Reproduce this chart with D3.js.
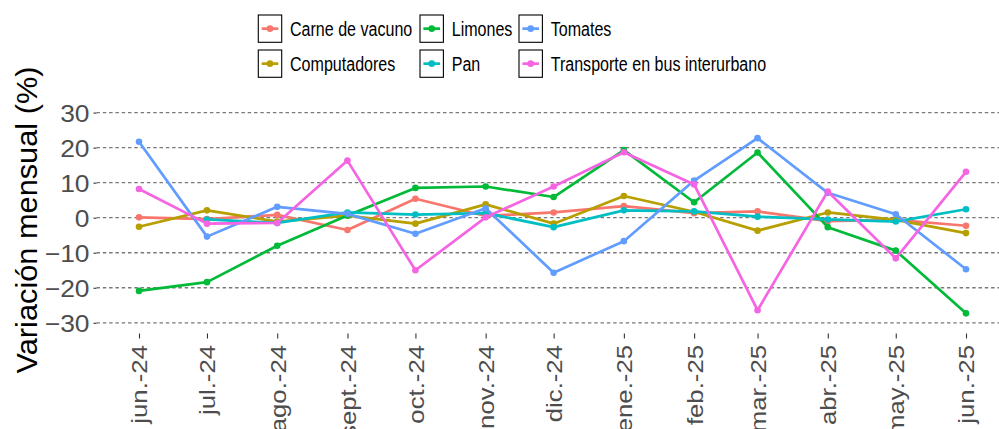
<!DOCTYPE html>
<html>
<head>
<meta charset="utf-8">
<script src="https://cdn.jsdelivr.net/npm/d3@7"></script>
<style>
  body { margin: 0; background: #fff; }
  svg { display: block; font-family: "Liberation Sans", Arial, sans-serif; }
</style>
</head>
<body>
<svg id="chart" width="999" height="429"></svg>
<script>
// months (first day) and their labels
const months = ["2024-06-01","2024-07-01","2024-08-01","2024-09-01","2024-10-01","2024-11-01",
  "2024-12-01","2025-01-01","2025-02-01","2025-03-01","2025-04-01","2025-05-01","2025-06-01"];
const monthLabels = ["jun.-24","jul.-24","ago.-24","sept.-24","oct.-24","nov.-24",
  "dic.-24","ene.-25","feb.-25","mar.-25","abr.-25","may.-25","jun.-25"];

// monthly change, %
const carne = [0.1, -0.4, 0.8, -3.5, 5.4, 0.5, 1.5, 3.3, 1.3, 1.8, -1.0, -0.6, -2.3];
const computadores = [-2.6, 2.1, -1.1, 0.6, -1.7, 3.8, -1.7, 6.2, 1.7, -3.7, 1.5, -0.6, -4.4];
const limones = [-20.9, -18.4, -8.0, 0.6, 8.5, 8.9, 5.9, 19.3, 4.4, 18.6, -2.7, -9.4, -27.3];
const pan = [null, -0.5, -1.5, 1.5, 0.9, 1.3, -2.7, 2.1, 1.8, 0.3, -0.5, -1.1, 2.4];
const tomates = [21.7, -5.4, 3.1, 1.1, -4.6, 2.7, -15.7, -6.7, 10.6, 22.7, 7.1, 1.0, -14.7];
const transporte = [8.2, -1.7, -1.5, 16.3, -15.0, 0.1, 8.9, 18.7, 9.5, -26.4, 7.5, -11.6, 13.1];

const seriesNames = ["Carne de vacuno","Computadores","Limones","Pan","Tomates","Transporte en bus interurbano"];
const seriesColors = ["#F8766D","#B79F00","#00BA38","#00BFC4","#619CFF","#F564E3"];
const seriesValues = [carne, computadores, limones, pan, tomates, transporte];
const yTicks = [-30, -20, -10, 0, 10, 20, 30];

const svg = d3.select("#chart");
const parse = d3.utcParse("%Y-%m-%d");
const dates = months.map(parse);

const x = d3.scaleUtc()
  .domain([dates[0], dates[dates.length - 1]])
  .range([139, 966]);
const y = d3.scaleLinear()
  .domain([-30, 30])
  .range([322.8, 112.6]);

const panelLeft = 96.5, panelRight = 999, panelBottom = 333.5;

// horizontal grid
svg.append("g")
  .selectAll("line")
  .data(yTicks)
  .join("line")
  .attr("x1", panelLeft).attr("x2", panelRight)
  .attr("y1", d => y(d)).attr("y2", d => y(d))
  .attr("stroke", "#7a7a7a")
  .attr("stroke-width", 1.3)
  .attr("stroke-dasharray", "3.5,2.8");

// y axis
const yAxis = svg.append("g")
  .attr("transform", `translate(${panelLeft},0)`)
  .call(d3.axisLeft(y).tickValues(yTicks).tickSize(3).tickPadding(4).tickFormat(d3.format("d")));
yAxis.select(".domain").remove();
yAxis.selectAll(".tick line").attr("stroke", "#333").attr("stroke-width", 1.1);
yAxis.selectAll(".tick text")
  .attr("fill", "#4D4D4D")
  .style("font-size", "24px")
  .attr("transform", "scale(1.1,1)")
  .attr("x", -7 / 1.1)
  .attr("dy", "0.36em");

// x axis
const xScaleText = 1.17;
const xAxis = svg.append("g")
  .attr("transform", `translate(0,${panelBottom})`)
  .call(d3.axisBottom(x).tickValues(dates).tickSize(5).tickFormat((d, i) => monthLabels[i]));
xAxis.select(".domain").remove();
xAxis.selectAll(".tick line").attr("stroke", "#333").attr("stroke-width", 1.1);
xAxis.selectAll(".tick text")
  .attr("fill", "#4D4D4D")
  .style("font-size", "22px")
  .attr("text-anchor", "end")
  .attr("transform", `rotate(-90) scale(${xScaleText},1)`)
  .attr("x", -11.5 / xScaleText)
  .attr("y", 0)
  .attr("dy", "0.36em");

// y title
svg.append("text")
  .attr("transform", "translate(37,220) rotate(-90) scale(1.06,1)")
  .attr("text-anchor", "middle")
  .style("font-size", "29px")
  .attr("fill", "#000")
  .text("Variación mensual (%)");

// lines and points
const line = d3.line()
  .defined(d => d.v !== null)
  .x(d => x(d.date))
  .y(d => y(d.v));

seriesNames.forEach((name, s) => {
  const pts = seriesValues[s].map((v, i) => ({ date: dates[i], v: v }));
  const g = svg.append("g");
  g.append("path")
    .datum(pts)
    .attr("d", line)
    .attr("fill", "none")
    .attr("stroke", seriesColors[s])
    .attr("stroke-width", 2.7)
    .attr("stroke-linejoin", "round");
  g.selectAll("circle")
    .data(pts.filter(d => d.v !== null))
    .join("circle")
    .attr("cx", d => x(d.date))
    .attr("cy", d => y(d.v))
    .attr("r", 3.3)
    .attr("fill", seriesColors[s]);
});

// legend, filled by column, 2 rows
const legendCols = [258.3, 420, 519];
const legendRows = [15, 50];
const legend = svg.append("g");
seriesNames.forEach((name, s) => {
  const col = Math.floor(s / 2), row = s % 2;
  const g = legend.append("g")
    .attr("transform", `translate(${legendCols[col]},${legendRows[row]})`);
  g.append("rect")
    .attr("width", 23.4).attr("height", 27.3)
    .attr("fill", "#fff")
    .attr("stroke", "#000")
    .attr("stroke-width", 1.1);
  g.append("line")
    .attr("x1", 3.4).attr("x2", 20)
    .attr("y1", 13.65).attr("y2", 13.65)
    .attr("stroke", seriesColors[s])
    .attr("stroke-width", 2.7);
  g.append("circle")
    .attr("cx", 11.7).attr("cy", 13.65).attr("r", 3.3)
    .attr("fill", seriesColors[s]);
  g.append("text")
    .attr("transform", "translate(31.7,13.65) scale(0.82,1)")
    .attr("dy", "0.36em")
    .style("font-size", "19.6px")
    .attr("fill", "#000")
    .text(name);
});
</script>
</body>
</html>
